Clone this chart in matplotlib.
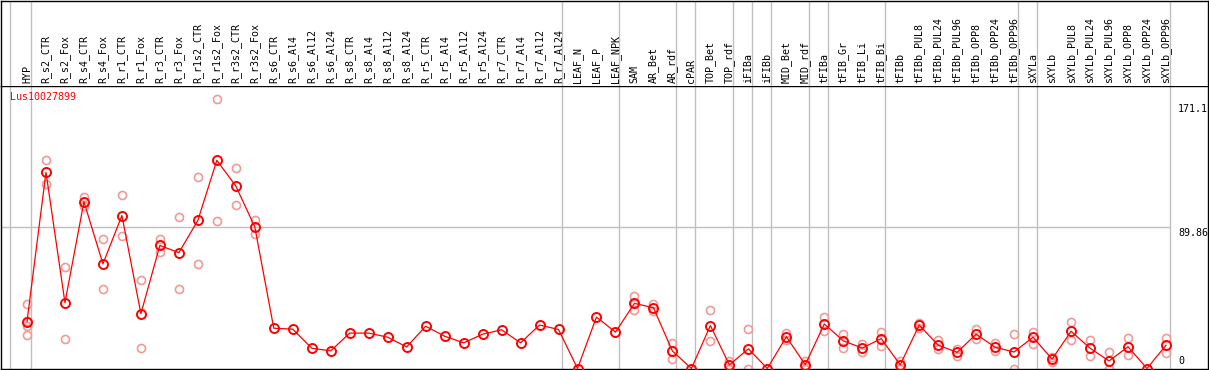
import matplotlib
matplotlib.use("Agg")
import matplotlib.pyplot as plt

# sample labels, left to right
samples = [
    "HYP", "R_s2_CTR", "R_s2_Fox", "R_s4_CTR", "R_s4_Fox", "R_r1_CTR", "R_r1_Fox",
    "R_r3_CTR", "R_r3_Fox", "R_r1s2_CTR", "R_r1s2_Fox", "R_r3s2_CTR", "R_r3s2_Fox",
    "R_s6_CTR", "R_s6_Al4", "R_s6_Al12", "R_s6_Al24", "R_s8_CTR", "R_s8_Al4",
    "R_s8_Al12", "R_s8_Al24", "R_r5_CTR", "R_r5_Al4", "R_r5_Al12", "R_r5_Al24",
    "R_r7_CTR", "R_r7_Al4", "R_r7_Al12", "R_r7_Al24", "LEAF_N", "LEAF_P", "LEAF_NPK",
    "SAM", "AR_Bet", "AR_rdf", "cPAR", "TOP_Bet", "TOP_rdf", "iFIBa", "iFIBb",
    "MID_Bet", "MID_rdf", "tFIBa", "tFIB_Gr", "tFIB_Li", "tFIB_Bi", "tFIBb",
    "tFIBb_PUL8", "tFIBb_PUL24", "tFIBb_PUL96", "tFIBb_OPP8", "tFIBb_OPP24",
    "tFIBb_OPP96", "sXYLa", "sXYLb", "sXYLb_PUL8", "sXYLb_PUL24", "sXYLb_PUL96",
    "sXYLb_OPP8", "sXYLb_OPP24", "sXYLb_OPP96",
]

# mean expression per sample
means = [
    29.8, 124.7, 41.8, 106.0, 66.5, 97.2, 34.8, 78.2, 73.6, 94.1, 132.3, 116.0, 90.0,
    25.6, 25.0, 12.9, 11.2, 22.5, 22.5, 19.9, 13.7, 26.9, 20.5, 16.3, 21.8, 24.6,
    16.3, 27.6, 24.8,
    0.0, 32.7, 23.1,
    41.4, 38.6, 11.1, 0.0, 27.3, 2.3, 12.5, 0.0, 20.2, 2.4, 28.3, 17.6, 13.0, 19.0,
    2.3, 27.6, 14.8, 10.3, 21.8, 13.5, 10.5, 19.9, 5.9, 23.7, 12.9, 4.8, 13.8, 0.0, 14.8,
]

# individual replicates (empty = single value)
replicates = [
    [41.0, 30.0, 27.0, 21.0], [132.4, 117.1], [64.8, 19.0], [108.8, 103.2],
    [82.0, 50.5], [110.1, 83.9], [56.5, 13.1], [82.2, 73.9], [96.0, 50.7],
    [121.6, 66.7], [171.1, 93.5], [127.7, 104.1], [94.3, 85.6],
    [], [], [], [], [], [], [], [], [], [], [], [], [], [], [], [],
    [], [], [],
    [46.1, 40.8, 37.3], [41.2, 36.3], [16.1, 6.1], [], [37.3, 17.4], [5.0, 0.0],
    [25.0, 0.0], [], [22.5, 18.2], [5.0, 0.0], [32.7, 24.1], [22.0, 13.3],
    [15.8, 10.3], [23.3, 14.4],
    [4.6, 0.0], [29.2, 25.6], [18.2, 12.2], [12.4, 8.0], [24.8, 18.8], [16.5, 11.4],
    [21.8, 0.0], [23.3, 15.6], [7.5, 4.3], [29.5, 18.0], [18.0, 8.0], [10.3, 0.0],
    [19.5, 8.4], [], [19.5, 9.7],
]

# last sample index of each tissue group
group_ends = [0, 28, 31, 34, 35, 37, 38, 39, 41, 42, 45, 52, 53, 60]

gene = "Lus10027899"
y_max = 171.1
y_mid = 89.86

W, H = 1209, 370
FONT = "DejaVu Sans Mono"
FS = 7.2
GRAY = "#c0c0c0"

fig = plt.figure(figsize=(W / 100, H / 100), dpi=100)

left_px, right_px = 1.0, 1207.7
top_data_px, bottom_px = 85.7, 368.5
step = 18.983
x0 = -(27.0 - left_px) / step
x1 = x0 + (right_px - left_px) / step

ax = fig.add_axes([left_px / W, (H - bottom_px) / H,
                   (right_px - left_px) / W, (bottom_px - top_data_px) / H])
hx = fig.add_axes([left_px / W, (H - top_data_px) / H,
                   (right_px - left_px) / W, (top_data_px - 0.6) / H])

for a in (ax, hx):
    a.set_xlim(x0, x1)
    a.set_xticks([])
    a.set_yticks([])
    for s in a.spines.values():
        s.set_linewidth(1.0)
        s.set_color("black")
hx.set_ylim(0, 1)
hx.spines["bottom"].set_visible(False)

ax.set_ylim(0, 2 * y_mid)

# group separators
seps = [-0.9] + [g + 0.2 for g in group_ends]
for a in (ax, hx):
    for sx in seps:
        a.axvline(sx, color=GRAY, lw=1.0, zorder=0)
ax.hlines(y_mid, x0, group_ends[-1] + 0.2, color=GRAY, lw=1.0, zorder=0)

xs = list(range(len(samples)))

# replicates
rx, ry = [], []
for i, reps in enumerate(replicates):
    for v in reps:
        rx.append(i)
        ry.append(v)
ax.plot(rx, ry, ls="none", marker="o", ms=5.8, mfc="none", mec="#f09a9a",
        mew=1.2, zorder=2)

# mean line
ax.plot(xs, means, color="red", lw=0.9, marker="o", ms=6.5, mfc="none",
        mec="red", mew=1.4, zorder=3)

# sample labels
for i, name in enumerate(samples):
    hx.annotate(name, (i, 0), xytext=(0, 2), textcoords="offset points",
                rotation=90, ha="center", va="bottom", family=FONT, fontsize=FS)

# gene name
fig.text(10 / W, 1 - 97 / H, gene, color="red", family=FONT, fontsize=FS,
         ha="left", va="center")

# right-hand scale labels
lab_x = (1178 - 27) / step
ax.annotate(f"{y_max:g}", (lab_x, y_max), xytext=(0, -3.5), textcoords="offset points",
            ha="left", va="top", family=FONT, fontsize=FS, annotation_clip=False)
ax.annotate(f"{y_mid:g}", (lab_x, y_mid), xytext=(0, -0.5), textcoords="offset points",
            ha="left", va="top", family=FONT, fontsize=FS, annotation_clip=False)
ax.annotate("0", (lab_x, 0), xytext=(0, 1.5), textcoords="offset points",
            ha="left", va="bottom", family=FONT, fontsize=FS, annotation_clip=False)

fig.savefig("out.png", dpi=100)
